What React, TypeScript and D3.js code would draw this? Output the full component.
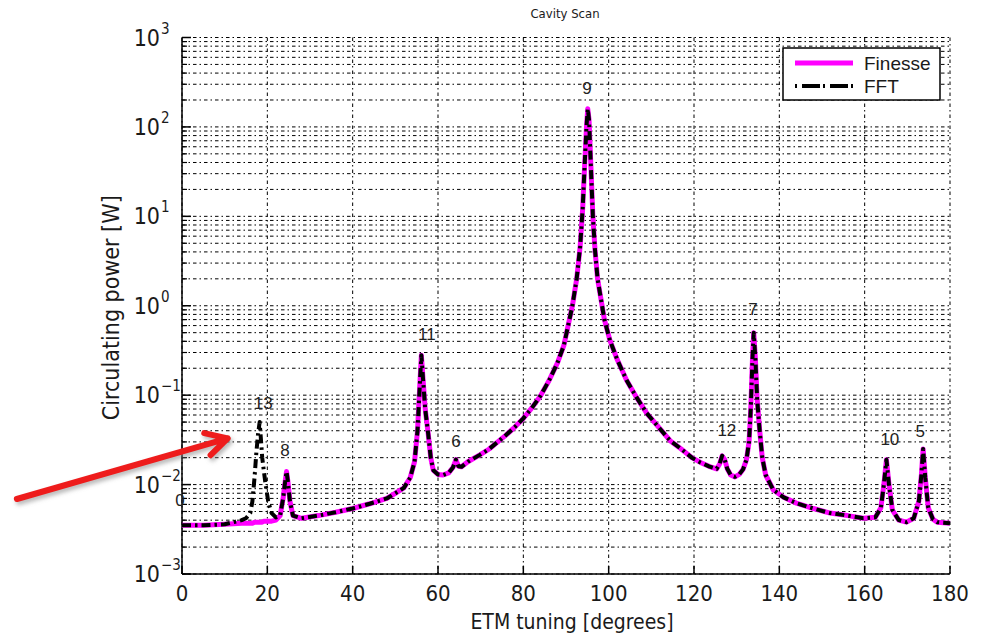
import React from "react";
import * as d3 from "d3";

// ETM tuning [degrees]
const tuning = [
  0, 5, 10, 14, 15, 16, 16.5, 17, 17.4, 17.8, 18.2, 18.5, 18.8, 19.2, 19.6, 20.2, 21, 22, 23,
  23.7, 24.2, 24.5, 24.8, 25.3, 26, 28, 32, 36, 40, 44, 48, 50, 52, 53.5, 54.5, 55.2, 55.7,
  56.1, 56.5, 57, 57.7, 58.3, 58.9, 60, 61.2, 62.5, 63.5, 64.2, 64.8, 65.5, 67, 69.8, 72, 74,
  76, 78, 80, 82, 84, 86, 88, 89.5, 90.5, 91.5, 92.5, 93.3, 93.9, 94.4, 94.8, 95.1, 95.4, 95.8,
  96.3, 96.8, 97.4, 98, 99, 100.3, 102, 104.2, 106.5, 108.9, 111.5, 114.4, 117, 119.5, 121.4,
  123.5, 125.3, 126, 126.6, 127.2, 127.8, 128.6, 129.6, 130.6, 131.5, 132.3, 132.9, 133.3,
  133.7, 134, 134.4, 134.8, 135.4, 136, 136.8, 138.6, 141, 144, 148, 151.9, 156, 159.7, 162.5,
  163.8, 164.5, 165.1, 165.7, 166.5, 168, 169.8, 171.5, 172.7, 173.3, 173.7, 174.2, 174.9, 176,
  177, 180,
];

// Circulating power [W], Finesse simulation
const finesse = [
  0.0035, 0.0035, 0.0036, 0.0037, 0.0037, 0.0037, 0.0037, 0.0038, 0.0038, 0.0038, 0.0038, 0.0038,
  0.0038, 0.0039, 0.0039, 0.0039, 0.0039, 0.004, 0.0045,
  0.007, 0.011, 0.014, 0.011, 0.0065, 0.0045, 0.0042, 0.0045, 0.0049, 0.0054, 0.0061, 0.007,
  0.008, 0.0092, 0.012, 0.018, 0.04, 0.12,
  0.28, 0.15, 0.07, 0.037, 0.02, 0.0145, 0.013, 0.0128, 0.0135, 0.0155, 0.019, 0.016, 0.0158,
  0.018, 0.0215, 0.025, 0.03,
  0.036, 0.044, 0.055, 0.072, 0.098, 0.145, 0.23, 0.36, 0.6, 1.0, 2.0, 4.5, 12, 40, 100, 160,
  120, 40,
  10, 4.2, 2.0, 1.35, 0.7, 0.41, 0.25, 0.147, 0.095, 0.063, 0.045, 0.031, 0.025, 0.02, 0.0178,
  0.016, 0.015, 0.017, 0.021, 0.019, 0.015, 0.0128, 0.0122, 0.013, 0.0148, 0.019, 0.03, 0.07,
  0.25, 0.5, 0.25, 0.09, 0.04, 0.02, 0.0128, 0.0087, 0.0072, 0.0062, 0.0054, 0.0048, 0.0045,
  0.0042, 0.0043,
  0.0055, 0.01, 0.019, 0.01, 0.0052, 0.004, 0.0038, 0.0042, 0.0065, 0.013, 0.025, 0.012, 0.0055,
  0.0041, 0.0038, 0.0037,
];

// Circulating power [W], FFT simulation (differs around mode 13)
const fft = [
  0.0035, 0.0035, 0.0036, 0.004, 0.0042, 0.0048, 0.0065, 0.012, 0.022, 0.036, 0.05, 0.032,
  0.02, 0.014, 0.01, 0.0065, 0.0048, 0.0043, 0.0045,
  0.007, 0.011, 0.014, 0.011, 0.0065, 0.0045, 0.0042, 0.0045, 0.0049, 0.0054, 0.0061, 0.007,
  0.008, 0.0092, 0.012, 0.018, 0.04, 0.12,
  0.28, 0.15, 0.07, 0.037, 0.02, 0.0145, 0.013, 0.0128, 0.0135, 0.0155, 0.019, 0.016, 0.0158,
  0.018, 0.0215, 0.025, 0.03,
  0.036, 0.044, 0.055, 0.072, 0.098, 0.145, 0.23, 0.36, 0.6, 1.0, 2.0, 4.5, 12, 40, 100, 160,
  120, 40,
  10, 4.2, 2.0, 1.35, 0.7, 0.41, 0.25, 0.147, 0.095, 0.063, 0.045, 0.031, 0.025, 0.02, 0.0178,
  0.016, 0.015, 0.017, 0.021, 0.019, 0.015, 0.0128, 0.0122, 0.013, 0.0148, 0.019, 0.03, 0.07,
  0.25, 0.5, 0.25, 0.09, 0.04, 0.02, 0.0128, 0.0087, 0.0072, 0.0062, 0.0054, 0.0048, 0.0045,
  0.0042, 0.0043,
  0.0055, 0.01, 0.019, 0.01, 0.0052, 0.004, 0.0038, 0.0042, 0.0065, 0.013, 0.025, 0.012, 0.0055,
  0.0041, 0.0038, 0.0037,
];

// Mode labels placed near peaks
const modeLabels = ["0", "13", "8", "11", "6", "9", "12", "7", "10", "5"];
const modeLabelTuning = [-0.47, 19.05, 24.14, 57.4, 64.2, 94.9, 127.7, 133.8, 165.9, 173];
const modeLabelPower = [0.0067, 0.081, 0.0243, 0.482, 0.0307, 272, 0.0398, 0.918, 0.0316, 0.0389];

const xTicks = [0, 20, 40, 60, 80, 100, 120, 140, 160, 180];
const yExponents = [-3, -2, -1, 0, 1, 2, 3];

const seriesNames = ["Finesse", "FFT"];

// Annotation arrow (data coordinates)
const arrowTail = { t: -38.7, p: 0.0069 };
const arrowTip = { t: 10.7, p: 0.0329 };

const W = 982;
const H = 636;
const M = { left: 182, right: 950, top: 37.5, bottom: 574 };

const TICK_FONT = "'DejaVu Sans Condensed', 'Liberation Sans Narrow', 'Liberation Sans', sans-serif";
const FONT = "'Liberation Sans', Arial, sans-serif";

export default function App() {
  const x = d3.scaleLinear().domain([0, 180]).range([M.left, M.right]);
  const y = d3.scaleLog().domain([1e-3, 1e3]).range([M.bottom, M.top]);

  const finData = tuning.map((t, i) => [t, finesse[i]] as [number, number]);
  const fftData = tuning.map((t, i) => [t, fft[i]] as [number, number]);
  const line = d3
    .line<[number, number]>()
    .x((d) => x(d[0]))
    .y((d) => y(d[1]));

  const minors: number[] = [];
  for (let e = -3; e < 3; e++) {
    for (let m = 2; m <= 9; m++) minors.push(m * Math.pow(10, e));
  }

  const gridDash = "3.5 3 1.5 3";

  // arrow geometry
  const ax0 = x(arrowTail.t);
  const ay0 = y(arrowTail.p);
  const ax1 = x(arrowTip.t);
  const ay1 = y(arrowTip.p);
  const ang = Math.atan2(ay1 - ay0, ax1 - ax0);
  const hl = 24;
  const b1 = [ax1 - hl * Math.cos(ang - 0.5), ay1 - hl * Math.sin(ang - 0.5)];
  const b2 = [ax1 - hl * Math.cos(ang + 0.5), ay1 - hl * Math.sin(ang + 0.5)];
  const arrowPath = `M${ax0},${ay0}L${ax1},${ay1}M${b1[0]},${b1[1]}L${ax1},${ay1}L${b2[0]},${b2[1]}`;

  return (
    <svg
      width={W}
      height={H}
      style={{ position: "absolute", left: 0, top: 0, background: "#fff" }}
    >
      <defs>
        <clipPath id="plotClip">
          <rect x={M.left} y={M.top - 2} width={M.right - M.left + 2} height={M.bottom - M.top + 2} />
        </clipPath>
        <filter id="shadow" x="-20%" y="-50%" width="140%" height="200%">
          <feGaussianBlur stdDeviation="2" />
        </filter>
      </defs>
      <rect x={0} y={0} width={W} height={H} fill="#fff" />

      {/* grid */}
      <g stroke="#000" strokeWidth={1} strokeDasharray={gridDash} fill="none">
        {minors.map((v, i) => (
          <line key={"mn" + i} x1={M.left} x2={M.right} y1={y(v)} y2={y(v)} />
        ))}
        {yExponents.map((e) => (
          <line key={"mj" + e} x1={M.left} x2={M.right} y1={y(Math.pow(10, e))} y2={y(Math.pow(10, e))} />
        ))}
        {xTicks.map((t) => (
          <line key={"vx" + t} x1={x(t)} x2={x(t)} y1={M.top} y2={M.bottom} />
        ))}
      </g>

      {/* axes */}
      <g stroke="#000" strokeWidth={1.5}>
        <line x1={M.left} x2={M.left} y1={M.top} y2={M.bottom} />
        <line x1={M.left} x2={M.right} y1={M.bottom} y2={M.bottom} />
        {yExponents.map((e) => (
          <line key={"yt" + e} x1={M.left} x2={M.left + 9} y1={y(Math.pow(10, e))} y2={y(Math.pow(10, e))} />
        ))}
        {minors.map((v, i) => (
          <line key={"ymt" + i} x1={M.left} x2={M.left + 5} y1={y(v)} y2={y(v)} strokeWidth={1.2} />
        ))}
        {xTicks.map((t) => (
          <line key={"xt" + t} x1={x(t)} x2={x(t)} y1={M.bottom} y2={M.bottom - 8} />
        ))}
      </g>

      {/* series */}
      <g clipPath="url(#plotClip)" fill="none">
        <path d={line(finData) || ""} stroke="#ff00ff" strokeWidth={5} strokeLinejoin="round" />
        <path
          d={line(fftData) || ""}
          stroke="#000"
          strokeWidth={4}
          strokeDasharray="9 4 2.5 4"
          strokeLinejoin="round"
        />
      </g>

      {/* mode labels */}
      <g fontFamily={FONT} fontSize={17} fill="#222" textAnchor="middle">
        {modeLabels.map((s, i) => (
          <text key={"ml" + i} x={x(modeLabelTuning[i])} y={y(modeLabelPower[i])} dominantBaseline="central">
            {s}
          </text>
        ))}
      </g>

      {/* y tick labels */}
      <g fontFamily={TICK_FONT} fill="#1a1a1a">
        {yExponents.map((e) => (
          <g key={"yl" + e}>
            <text x={160} y={y(Math.pow(10, e)) + 8} fontSize={23} textAnchor="end">
              10
            </text>
            <text x={161} y={y(Math.pow(10, e)) - 4} fontSize={15} textAnchor="start">
              {e < 0 ? "\u2212" + Math.abs(e) : String(e)}
            </text>
          </g>
        ))}
      </g>

      {/* x tick labels */}
      <g fontFamily={TICK_FONT} fill="#1a1a1a" fontSize={22} textAnchor="middle">
        {xTicks.map((t) => (
          <text key={"xl" + t} x={x(t)} y={601}>
            {t}
          </text>
        ))}
      </g>

      {/* axis labels and title */}
      <text x={572} y={629} fontFamily={TICK_FONT} fontSize={21} textAnchor="middle" fill="#1a1a1a">
        ETM tuning [degrees]
      </text>
      <text
        transform={`translate(119,${(M.top + M.bottom) / 2 + 2}) rotate(-90)`}
        fontFamily={TICK_FONT}
        fontSize={23}
        textAnchor="middle"
        fill="#1a1a1a"
      >
        Circulating power [W]
      </text>
      <text x={565} y={18} fontFamily={TICK_FONT} fontSize={13} textAnchor="middle" fill="#1a1a1a">
        Cavity Scan
      </text>

      {/* legend */}
      <g>
        <rect x={783} y={48} width={157} height={52} fill="#fff" stroke="#000" strokeWidth={1.5} />
        <line x1={795} x2={853} y1={63} y2={63} stroke="#ff00ff" strokeWidth={5} />
        <line x1={795} x2={853} y1={86} y2={86} stroke="#000" strokeWidth={4} strokeDasharray="2 5 18 3" />
        <g fontFamily={FONT} fontSize={19} fill="#1a1a1a">
          <text x={864} y={70}>{seriesNames[0]}</text>
          <text x={864} y={93}>{seriesNames[1]}</text>
        </g>
      </g>

      {/* red annotation arrow */}
      <path
        d={arrowPath}
        transform="translate(2,3)"
        stroke="#888"
        strokeOpacity={0.6}
        strokeWidth={6}
        fill="none"
        strokeLinecap="round"
        strokeLinejoin="round"
        filter="url(#shadow)"
      />
      <path d={arrowPath} stroke="#ee1c1c" strokeWidth={6} fill="none" strokeLinecap="round" strokeLinejoin="round" />
    </svg>
  );
}
